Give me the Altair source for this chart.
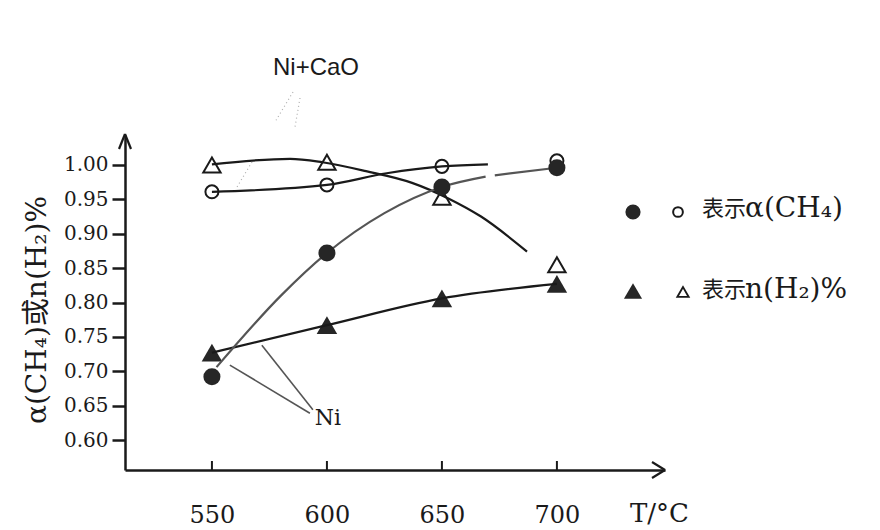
import altair as alt
import pandas as pd

# Reaction temperature, °C
temps = [550, 600, 650, 700]

# Measured values
ch4_ni = [0.692, 0.872, 0.968, 0.996]      # α(CH4) over Ni          (filled circles)
ch4_nicao = [0.961, 0.971, 0.998, 1.006]   # α(CH4) over Ni+CaO      (open circles)
h2_ni = [0.727, 0.767, 0.806, 0.827]       # n(H2)% over Ni          (filled triangles)
h2_nicao = [1.000, 1.004, 0.953, 0.855]    # n(H2)% over Ni+CaO      (open triangles)

# Hand-drawn trend curves (temperature, value)
trend_h2_nicao_t = [550, 584, 598, 617, 637, 653, 667, 687]
trend_h2_nicao_v = [1.001, 1.009, 1.004, 0.991, 0.974, 0.951, 0.925, 0.874]
trend_ch4_nicao_t = [550, 600, 626, 650, 670]
trend_ch4_nicao_v = [0.961, 0.971, 0.988, 0.998, 1.001]
trend_ch4_ni_t = [552, 580, 600, 625, 650, 669, 673, 700]
trend_ch4_ni_v = [0.706, 0.810, 0.872, 0.930, 0.968, 0.983, 0.985, 0.996]
trend_ch4_ni_seg = ["a", "a", "a", "a", "a", "a", "b", "b"]

# Leader lines pointing at the Ni curves (start T, start value, end T, end value)
lead_t1 = [557.8, 571.7]
lead_v1 = [0.709, 0.738]
lead_t2 = [592.6, 593.9]
lead_v2 = [0.639, 0.644]

y_ticks = [0.60, 0.65, 0.70, 0.75, 0.80, 0.85, 0.90, 0.95, 1.00]

# page geometry of the plot area
OX, OY, W, H = 125, 135, 540, 335
INK = "#1a1a1a"
SERIF = "DejaVu Serif"
CJK = "Noto Sans CJK SC"

xs = alt.Scale(domain=[512.2, 747.0], nice=False, zero=False)
ys = alt.Scale(domain=[0.5564, 1.0436], nice=False, zero=False)

x_axis = alt.Axis(values=temps, labelFont=SERIF, labelFontSize=24,
                  labelColor=INK, ticks=False, labelPadding=33,
                  domainColor=INK, domainWidth=2.5, grid=False, title=None)
y_axis = alt.Axis(values=y_ticks, format=".2f", labelFont=SERIF,
                  labelFontSize=20, labelColor=INK, tickSize=13,
                  tickWidth=2.5, tickColor=INK, domainColor=INK,
                  domainWidth=2.5, labelPadding=4, grid=False, title=None)


def xq(field):
    return alt.X(f"{field}:Q", scale=xs, axis=x_axis)


def yq(field):
    return alt.Y(f"{field}:Q", scale=ys, axis=y_axis)


one = pd.DataFrame({"k": [0]})


def seg(x1, y1, x2, y2, **style):
    """A straight stroke given in page pixels."""
    return alt.Chart(one).mark_rule(**style).encode(
        x=alt.value(x1 - OX), y=alt.value(y1 - OY),
        x2=alt.value(x2 - OX), y2=alt.value(y2 - OY))


def label(text, x, y, **style):
    """Free text placed in page pixels."""
    return alt.Chart(one).mark_text(text=text, **style).encode(
        x=alt.value(x - OX), y=alt.value(y - OY))


def glyph(x, y, **style):
    return alt.Chart(one).mark_point(**style).encode(
        x=alt.value(x - OX), y=alt.value(y - OY))


pts = pd.DataFrame({"T": temps, "ch4_ni": ch4_ni, "ch4_nicao": ch4_nicao,
                    "h2_ni": h2_ni, "h2_nicao": h2_nicao})

black_curves = pd.concat([
    pd.DataFrame({"T": trend_h2_nicao_t, "v": trend_h2_nicao_v, "c": "h2_nicao"}),
    pd.DataFrame({"T": trend_ch4_nicao_t, "v": trend_ch4_nicao_v, "c": "ch4_nicao"}),
    pd.DataFrame({"T": temps, "v": h2_ni, "c": "h2_ni"}),
])
gray_curve = pd.DataFrame({"T": trend_ch4_ni_t, "v": trend_ch4_ni_v, "c": trend_ch4_ni_seg})
leads = pd.DataFrame({"t1": lead_t1, "v1": lead_v1, "t2": lead_t2, "v2": lead_v2})

curves_k = alt.Chart(black_curves).mark_line(
    interpolate="monotone", color=INK, strokeWidth=2.2).encode(
    x=xq("T"), y=yq("v"), detail="c:N")
curves_g = alt.Chart(gray_curve).mark_line(
    interpolate="monotone", color="#555555", strokeWidth=2.2).encode(
    x=xq("T"), y=yq("v"), detail="c:N")
leaders = alt.Chart(leads).mark_rule(color="#555555", strokeWidth=1.6).encode(
    x=xq("t1"), y=yq("v1"), x2="t2:Q", y2="v2:Q")

base = alt.Chart(pts)
open_circ = base.mark_point(shape="circle", filled=False, size=170,
                            strokeWidth=2, color=INK, opacity=1).encode(
    x=xq("T"), y=yq("ch4_nicao"))
open_tri = base.mark_point(shape="triangle-up", filled=False, size=300,
                           strokeWidth=2, color=INK, opacity=1).encode(
    x=xq("T"), y=yq("h2_nicao"))
fill_circ = base.mark_point(shape="circle", filled=True, size=290,
                            color="#262626", opacity=1).encode(
    x=xq("T"), y=yq("ch4_ni"))
fill_tri = base.mark_point(shape="triangle-up", filled=True, size=420,
                           color="#262626", opacity=1).encode(
    x=xq("T"), y=yq("h2_ni"))

# small inward ticks on the temperature axis
x_ticks = alt.Chart(pd.DataFrame({"T": temps})).mark_rule(
    color=INK, strokeWidth=2).encode(
    x=xq("T"), y=alt.value(H - 9), y2=alt.value(H))

arrows = [
    seg(652, 462, 665, 470, color=INK, strokeWidth=2.2),
    seg(652, 478, 665, 470, color=INK, strokeWidth=2.2),
    seg(119, 149, 125, 134, color=INK, strokeWidth=2.2),
    seg(131, 149, 125, 134, color=INK, strokeWidth=2.2),
]

faint = [
    seg(293, 92, 275, 122, color="#b0b0b0", strokeWidth=1.2, strokeDash=[1, 3]),
    seg(252, 162, 237, 187, color="#b0b0b0", strokeWidth=1.2, strokeDash=[1, 3]),
    seg(300, 98, 295, 127, color="#b0b0b0", strokeWidth=1.2, strokeDash=[1, 3]),
]

texts = [
    label("Ni+CaO", 316, 75, font="Liberation Sans", fontSize=24,
          align="center", baseline="alphabetic", color=INK),
    label("Ni", 328, 425, font=SERIF, fontSize=22, align="center",
          baseline="alphabetic", color=INK),
    label("T/°C", 630, 522, font=SERIF, fontSize=26, align="left",
          baseline="alphabetic", color=INK),
    label("α(CH₄)或n(H₂)%", 38, 310, font=f"{SERIF}, {CJK}", fontSize=28,
          angle=270, align="center", baseline="middle", color=INK),
]

legend = [
    glyph(633, 212, shape="circle", filled=True, size=230, color="#262626", opacity=1),
    glyph(678, 212, shape="circle", filled=False, size=95, strokeWidth=2,
          color=INK, opacity=1),
    label("表示", 702, 209, font=CJK, fontSize=22, align="left",
          baseline="middle", color=INK),
    label("α(CH₄)", 745, 209, font=SERIF, fontSize=28, align="left",
          baseline="middle", color=INK),
    glyph(633, 291, shape="triangle-up", filled=True, size=330, color="#262626", opacity=1),
    glyph(683, 292, shape="triangle-up", filled=False, size=130, strokeWidth=1.8,
          color=INK, opacity=1),
    label("表示", 702, 290, font=CJK, fontSize=22, align="left",
          baseline="middle", color=INK),
    label("n(H₂)%", 745, 290, font=SERIF, fontSize=28, align="left",
          baseline="middle", color=INK),
]

chart = alt.layer(
    fill_tri, curves_k, curves_g, leaders, x_ticks,
    open_circ, open_tri, fill_circ,
    *arrows, *faint, *texts, *legend,
).properties(
    width=W, height=H,
    padding={"left": OX, "top": OY, "right": 880 - OX - W, "bottom": 530 - OY - H},
    autosize=alt.AutoSizeParams(type="none"),
).configure(background="white").configure_view(stroke=None)

chart.save("out.html", embed_options={"renderer": "svg", "actions": False})
